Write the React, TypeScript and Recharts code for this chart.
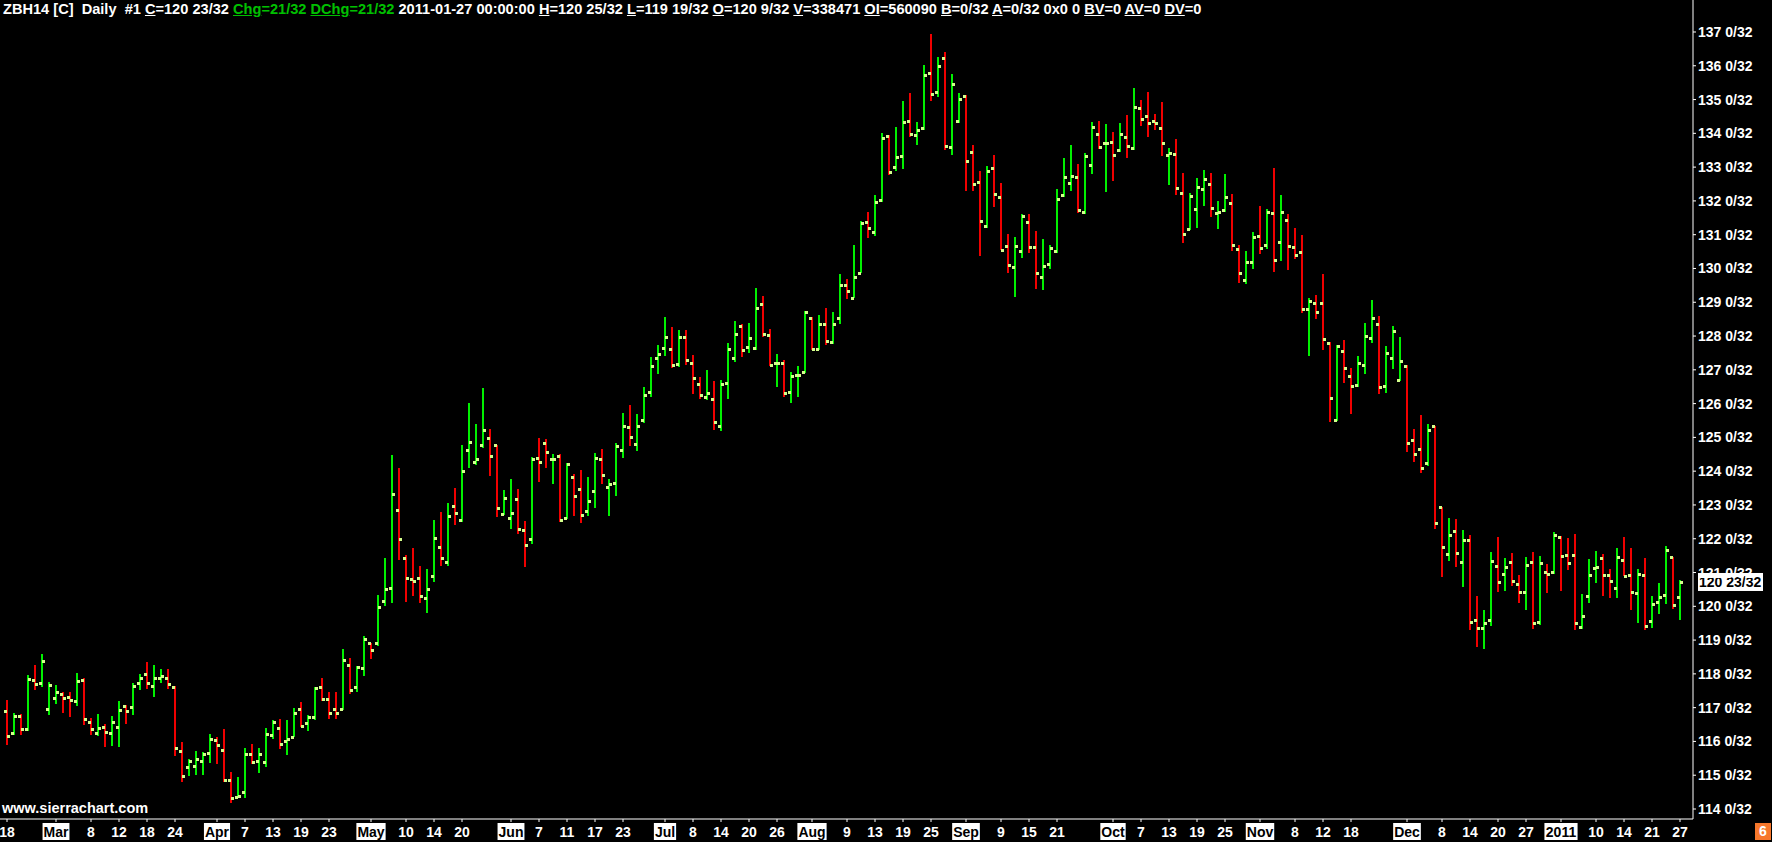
import { ComposedChart, Bar, XAxis, YAxis, ReferenceLine } from 'recharts';

// ZBH14 daily bars, 2010-02-18 .. 2011-01-27 (one entry per trading day)
const opens = [
  116.89, 116.24, 116.75, 116.38, 117.82, 117.72, 116.95, 117.3, 117.4, 117.33,
  117.21, 117.82, 116.59, 116.24, 116.42, 116.24, 116.44, 117.05, 117.01, 117.72,
  118.01, 117.64, 117.89, 117.89, 117.6, 115.71, 115.25, 115.28, 115.42, 115.67,
  116.03, 115.76, 114.87, 114.36, 114.51, 115.62, 115.43, 115.38, 116.18, 116.41,
  116.0, 116.12, 116.95, 116.54, 116.71, 117.6, 117.25, 116.95, 116.95, 118.25,
  117.6, 118.16, 118.9, 118.9, 120.15, 120.53, 122.84, 121.42, 120.8, 120.83,
  120.24, 120.89, 121.75, 121.3, 122.96, 122.55, 124.62, 124.26, 124.77, 124.97,
  124.77, 122.72, 122.6, 123.17, 122.25, 121.98, 124.39, 124.82, 124.35, 124.44,
  122.6, 123.82, 123.46, 122.81, 123.4, 124.35, 123.52, 123.64, 124.63, 125.3,
  124.79, 125.5, 126.33, 127.34, 127.66, 127.63, 127.17, 127.96, 127.19, 126.57,
  126.19, 126.15, 125.34, 126.6, 127.34, 128.3, 127.68, 127.66, 128.95, 128.03,
  127.19, 127.19, 126.35, 126.84, 126.93, 128.52, 127.61, 128.36, 127.81, 128.52,
  129.5, 129.14, 129.88, 131.37, 131.07, 132.03, 133.91, 132.99, 133.34, 134.36,
  133.94, 134.15, 135.78, 135.21, 136.22, 133.59, 134.36, 135.1, 133.44, 132.55,
  131.25, 132.96, 132.13, 130.66, 130.03, 130.53, 131.39, 130.63, 129.74, 130.12,
  130.51, 132.17, 132.52, 132.71, 131.66, 133.06, 133.97, 133.7, 133.73, 133.5,
  133.89, 133.56, 134.74, 134.5, 134.36, 134.15, 133.35, 133.38, 132.22, 131.17,
  131.75, 132.34, 132.49, 131.63, 131.72, 131.93, 130.57, 129.65, 130.18, 130.95,
  130.69, 131.63, 130.77, 131.43, 130.63, 130.48, 128.79, 128.99, 128.97, 127.78,
  125.5, 127.55, 126.83, 126.54, 127.13, 127.93, 128.35, 126.51, 127.34, 126.69,
  127.1, 124.91, 124.65, 124.23, 125.34, 122.93, 121.54, 122.22, 121.31, 121.95,
  119.6, 119.35, 119.6, 121.18, 120.97, 121.3, 120.65, 120.41, 121.3, 119.55,
  121.03, 121.03, 122.04, 121.51, 121.51, 119.4, 120.3, 121.12, 121.42, 120.94,
  120.53, 121.36, 120.94, 120.38, 120.92, 119.56, 120.14, 120.32, 121.45, 120.28,
];

const highs = [
  117.22, 116.83, 116.8, 117.96, 118.26, 118.59, 117.77, 117.67, 117.47, 117.47,
  118.04, 117.87, 116.68, 116.81, 116.53, 116.75, 117.19, 117.08, 117.74, 117.99,
  118.35, 118.26, 118.14, 118.14, 117.65, 115.99, 115.47, 115.71, 115.69, 116.22,
  116.14, 116.37, 115.1, 114.95, 115.82, 115.91, 115.82, 116.41, 116.63, 116.65,
  116.63, 116.98, 117.18, 116.78, 117.62, 117.87, 117.47, 117.47, 118.74, 118.48,
  118.23, 119.12, 118.92, 120.33, 121.42, 124.48, 124.09, 121.52, 121.72, 121.19,
  121.1, 122.56, 122.8, 123.06, 123.5, 124.78, 126.02, 125.4, 126.46, 125.25,
  124.78, 123.44, 123.77, 123.47, 122.52, 124.43, 124.99, 124.95, 124.51, 124.51,
  124.23, 123.92, 124.04, 123.84, 124.53, 124.67, 123.76, 124.82, 125.71, 125.96,
  125.68, 126.48, 127.39, 127.73, 128.57, 128.28, 128.18, 128.18, 127.44, 126.8,
  126.99, 126.68, 126.7, 127.8, 128.44, 128.37, 128.39, 129.43, 129.18, 128.2,
  127.47, 127.29, 126.94, 127.11, 128.74, 128.57, 128.62, 128.82, 128.72, 129.84,
  129.68, 130.7, 131.4, 131.66, 132.17, 134.0, 133.95, 134.18, 134.96, 135.2,
  134.33, 136.02, 136.94, 136.27, 136.42, 135.76, 135.2, 135.13, 133.65, 132.9,
  133.03, 133.36, 132.52, 131.02, 130.92, 131.61, 131.61, 131.12, 130.86, 130.69,
  132.35, 133.28, 133.66, 133.09, 133.43, 134.34, 134.36, 134.28, 134.03, 134.32,
  134.54, 135.33, 134.99, 135.23, 134.57, 134.94, 133.56, 133.83, 132.82, 132.22,
  132.67, 132.91, 132.84, 132.0, 132.8, 132.2, 130.7, 130.52, 131.08, 131.85,
  131.75, 132.98, 132.18, 131.61, 131.19, 130.99, 129.13, 129.2, 129.84, 127.83,
  127.73, 127.88, 127.04, 127.41, 128.4, 129.07, 128.59, 127.7, 128.3, 127.96,
  127.14, 125.24, 125.66, 125.41, 125.34, 122.93, 122.6, 122.57, 122.26, 122.1,
  120.3, 119.9, 121.6, 122.04, 121.42, 121.57, 120.93, 121.47, 121.62, 121.49,
  121.25, 122.2, 122.08, 122.03, 122.14, 120.35, 121.39, 121.64, 121.54, 121.09,
  121.72, 122.04, 121.74, 121.1, 121.42, 120.3, 120.7, 121.78, 121.47, 120.78,
];

const lows = [
  115.89, 116.19, 116.19, 116.29, 117.52, 117.62, 116.78, 117.1, 116.85, 116.73,
  117.06, 116.48, 116.19, 116.16, 115.84, 115.86, 115.84, 116.51, 116.78, 117.52,
  117.55, 117.32, 117.74, 117.55, 115.58, 114.81, 114.97, 115.0, 115.0, 115.35,
  115.33, 114.81, 114.19, 114.34, 114.34, 115.33, 115.07, 115.27, 116.06, 115.76,
  115.6, 116.11, 116.44, 116.3, 116.63, 117.18, 116.68, 116.68, 116.93, 117.42,
  117.47, 117.95, 118.46, 118.81, 119.99, 120.09, 121.37, 120.14, 120.29, 120.09,
  119.81, 120.73, 121.2, 121.2, 122.39, 122.51, 124.11, 124.2, 124.68, 123.87,
  122.65, 122.7, 122.29, 122.14, 121.17, 121.86, 123.69, 124.1, 123.62, 122.51,
  122.58, 122.67, 122.46, 122.7, 122.9, 123.64, 122.65, 123.26, 124.38, 124.74,
  124.58, 125.42, 126.2, 126.87, 127.41, 127.07, 127.07, 127.14, 126.3, 126.16,
  126.1, 125.24, 125.2, 126.14, 127.24, 127.39, 127.49, 127.58, 127.98, 127.11,
  126.5, 126.2, 126.03, 126.2, 126.9, 127.58, 127.58, 127.73, 127.76, 128.36,
  129.09, 129.12, 129.85, 130.89, 130.96, 131.95, 132.77, 132.87, 132.94, 133.9,
  133.65, 134.1, 134.97, 135.1, 133.52, 133.36, 134.3, 132.29, 132.3, 130.37,
  131.19, 131.83, 130.55, 129.86, 129.14, 130.3, 130.47, 129.41, 129.34, 129.97,
  130.47, 132.12, 132.3, 131.65, 131.63, 132.8, 133.52, 132.27, 132.57, 133.46,
  133.26, 133.49, 134.22, 133.9, 134.1, 133.33, 132.47, 132.17, 130.76, 131.12,
  131.19, 131.83, 131.53, 131.17, 131.68, 130.5, 129.58, 129.54, 129.98, 130.43,
  130.58, 129.91, 130.23, 129.94, 130.27, 128.69, 127.42, 128.49, 127.6, 125.47,
  125.47, 126.62, 125.69, 126.5, 126.88, 127.8, 126.28, 126.32, 127.04, 126.65,
  124.55, 124.25, 123.95, 124.18, 122.28, 120.86, 121.32, 121.15, 120.58, 119.3,
  118.8, 118.75, 119.4, 120.4, 120.43, 120.58, 120.1, 119.9, 119.35, 119.45,
  120.4, 120.97, 120.46, 121.07, 119.3, 119.3, 120.1, 120.68, 120.29, 120.23,
  120.23, 120.88, 119.9, 119.5, 119.3, 119.35, 119.77, 120.07, 119.94, 119.59,
];

const closes = [
  116.15, 116.75, 116.36, 117.84, 117.7, 118.37, 117.66, 117.45, 117.3, 117.24,
  117.78, 116.65, 116.38, 116.41, 116.27, 116.57, 116.92, 116.89, 117.64, 117.87,
  117.72, 117.87, 117.94, 117.69, 115.82, 114.99, 115.42, 115.48, 115.62, 116.06,
  115.88, 114.85, 114.34, 114.38, 115.64, 115.38, 115.62, 116.22, 116.59, 115.91,
  116.08, 116.84, 116.47, 116.71, 117.57, 117.25, 116.83, 116.83, 118.4, 117.51,
  118.19, 119.02, 118.7, 119.97, 120.5, 123.32, 121.98, 120.83, 120.74, 120.3,
  120.5, 122.01, 121.42, 122.67, 122.75, 124.0, 124.85, 124.35, 125.22, 124.44,
  122.9, 123.2, 122.75, 122.28, 121.81, 124.36, 124.26, 124.56, 124.36, 122.55,
  124.2, 123.27, 122.69, 123.11, 124.38, 123.9, 123.62, 124.74, 125.33, 125.01,
  125.33, 126.26, 127.11, 127.46, 127.96, 127.13, 127.96, 127.28, 126.75, 126.25,
  126.3, 125.45, 126.58, 127.63, 128.06, 127.58, 127.93, 128.82, 128.06, 127.14,
  127.19, 126.3, 126.82, 126.84, 128.7, 127.61, 128.37, 127.86, 128.36, 129.5,
  129.33, 129.74, 131.36, 131.19, 131.96, 133.85, 132.87, 133.3, 134.33, 133.97,
  134.1, 135.72, 135.16, 135.99, 133.64, 135.46, 135.01, 133.17, 132.5, 131.42,
  132.9, 132.2, 130.55, 130.09, 130.66, 131.55, 130.63, 129.86, 130.06, 130.6,
  132.05, 132.7, 132.74, 131.72, 133.33, 134.18, 133.61, 133.7, 133.35, 133.98,
  133.63, 134.77, 134.41, 134.3, 134.3, 133.7, 133.42, 132.39, 131.01, 132.15,
  132.4, 132.64, 131.78, 131.66, 132.11, 130.69, 129.86, 130.18, 130.92, 130.6,
  131.66, 130.24, 131.66, 130.66, 130.39, 128.79, 129.03, 128.7, 127.9, 126.18,
  127.7, 127.04, 126.51, 127.19, 127.99, 128.52, 126.48, 127.49, 128.14, 127.25,
  124.82, 124.5, 124.08, 125.21, 122.48, 121.77, 122.1, 121.57, 121.95, 119.55,
  119.35, 119.5, 121.35, 120.71, 121.15, 120.74, 120.41, 121.21, 119.5, 121.27,
  120.97, 122.1, 121.48, 121.27, 119.5, 119.7, 120.94, 121.15, 120.94, 120.74,
  121.45, 120.89, 120.41, 120.97, 119.43, 120.06, 120.28, 121.68, 120.03, 120.72,
];

// date axis: bar index of each label and its text
const tickBars = [
  0, 7, 12, 16, 20, 24, 30, 34, 38, 42, 46, 52, 57, 61, 65, 72, 76, 80, 84, 88,
  94, 98, 102, 106, 110, 115, 120, 124, 128, 132, 137, 142, 146, 150, 158, 162, 166, 170, 174,
  179, 184, 188, 192, 200, 205, 209, 213, 217, 222, 227, 231, 235, 239,
];
const tickLabels = [
  '18', 'Mar', '8', '12', '18', '24', 'Apr', '7', '13', '19', '23', 'May', '10', '14', '20', 'Jun', '7', '11', '17', '23',
  'Jul', '8', '14', '20', '26', 'Aug', '9', '13', '19', '25', 'Sep', '9', '15', '21', 'Oct', '7', '13', '19', '25',
  'Nov', '8', '12', '18', 'Dec', '8', '14', '20', '27', '2011', '10', '14', '21', '27',
];
const boxedLabels = ['Mar', 'Apr', 'May', 'Jun', 'Jul', 'Aug', 'Sep', 'Oct', 'Nov', 'Dec', '2011'];

const priceTicks = [
  114, 115, 116, 117, 118, 119, 120, 121, 122, 123, 124, 125,
  126, 127, 128, 129, 130, 131, 132, 133, 134, 135, 136, 137,
];

const GREEN = '#00f000';
const RED = '#f00000';
const MARK = '#d4ff8c';
const FONT = '"Liberation Sans", Arial, sans-serif';

// Arial Bold advance widths (em) for label box sizing
const charW: Record<string, number> = {
  M: 0.833, a: 0.556, r: 0.389, A: 0.722, p: 0.611, y: 0.556, J: 0.556, u: 0.611, n: 0.611,
  l: 0.278, g: 0.611, S: 0.667, e: 0.556, O: 0.778, c: 0.556, t: 0.333, N: 0.722, o: 0.611,
  v: 0.556, D: 0.722,
};
const textWidth = (s: string, size: number) =>
  s.split('').reduce((w, ch) => w + (charW[ch] ?? 0.556), 0) * size;

const fmt32 = (v: number) => {
  const whole = Math.floor(v + 1e-9);
  return `${whole} ${Math.round((v - whole) * 32)}/32`;
};

const data = opens.map((o, i) => ({
  i,
  o,
  h: highs[i],
  l: lows[i],
  c: closes[i],
  range: [lows[i], highs[i]],
}));

function OhlcBar(props: any) {
  const { x, y, width, height, payload } = props;
  if (!payload || x == null) return null;
  const cx = Math.round(x + width / 2);
  const top = Math.min(y, y + height);
  const bottom = Math.max(y, y + height);
  const span = payload.h - payload.l;
  const toY = (v: number) => (span > 0 ? top + ((payload.h - v) / span) * (bottom - top) : top);
  const color = payload.c >= payload.o ? GREEN : RED;
  const oy = Math.round(toY(payload.o));
  const cy = Math.round(toY(payload.c));
  return (
    <g>
      <rect x={cx - 1} y={Math.round(top)} width={2} height={Math.max(1, Math.round(bottom - top))} fill={color} />
      <rect x={cx - 3} y={oy - 1} width={3} height={3} fill={MARK} />
      <rect x={cx} y={cy - 1} width={3} height={3} fill={MARK} />
    </g>
  );
}

function DateTick(props: any) {
  const { x, y, payload } = props;
  const idx = tickBars.indexOf(payload.value);
  if (idx < 0) return null;
  const label = tickLabels[idx];
  const boxed = boxedLabels.includes(label);
  const w = textWidth(label, 14) + 2;
  return (
    <g>
      {boxed && <rect x={x - w / 2} y={y + 1} width={w} height={17} fill="#fff" />}
      <text
        x={x}
        y={y + 15}
        textAnchor="middle"
        fill={boxed ? '#000' : '#fff'}
        fontFamily={FONT}
        fontWeight="bold"
        fontSize={14}
      >
        {label}
      </text>
    </g>
  );
}

function PriceTick(props: any) {
  const { x, y, payload } = props;
  return (
    <text x={x} y={y + 5} textAnchor="start" fill="#fff" fontFamily={FONT} fontWeight="bold" fontSize={14}>
      {fmt32(payload.value)}
    </text>
  );
}

function LastPriceTag(props: any) {
  const vb = props.viewBox || {};
  const x = vb.x + vb.width + 5;
  const y = vb.y;
  return (
    <g>
      <rect x={x} y={y - 9} width={65} height={18} fill="#fff" />
      <text x={x + 1} y={y + 5} fill="#000" fontFamily={FONT} fontWeight="bold" fontSize={14}>
        {fmt32(closes[closes.length - 1])}
      </text>
    </g>
  );
}

const u = { textDecoration: 'underline' as const };
const g = { color: '#00c000' };

export default function App() {
  return (
    <div style={{ position: 'fixed', left: 0, top: 0, width: 1772, height: 842, background: '#000', overflow: 'hidden' }}>
      <ComposedChart width={1772} height={842} data={data} margin={{ top: 0, right: 0, bottom: 0, left: 0 }}>
        <XAxis
          dataKey="i"
          type="category"
          ticks={tickBars}
          interval={0}
          height={23}
          padding={{ left: 3.5, right: 9.5 }}
          axisLine={{ stroke: '#fff' }}
          tickLine={{ stroke: '#fff' }}
          tickSize={3}
          tickMargin={0}
          tick={<DateTick />}
        />
        <YAxis
          orientation="right"
          type="number"
          width={79}
          domain={[113.704, 137.947]}
          allowDataOverflow
          ticks={priceTicks}
          interval={0}
          axisLine={{ stroke: '#fff' }}
          tickLine={{ stroke: '#fff' }}
          tickSize={3}
          tickMargin={2}
          tick={<PriceTick />}
        />
        <Bar dataKey="range" shape={<OhlcBar />} isAnimationActive={false} />
        <ReferenceLine y={closes[closes.length - 1]} stroke="none" label={<LastPriceTag />} />
      </ComposedChart>

      <div
        style={{
          position: 'absolute', left: 3, top: 1, color: '#fff', fontFamily: FONT, fontWeight: 'bold',
          fontSize: 14.6, lineHeight: '17px', whiteSpace: 'pre',
        }}
      >
        {'ZBH14 [C]  Daily  #1 '}<span style={u}>C</span>{'=120 23/32 '}
        <span style={g}><span style={u}>Chg</span>=21/32</span>{' '}
        <span style={g}><span style={u}>DChg</span>=21/32</span>{' 2011-01-27 00:00:00 '}
        <span style={u}>H</span>{'=120 25/32 '}<span style={u}>L</span>{'=119 19/32 '}
        <span style={u}>O</span>{'=120 9/32 '}<span style={u}>V</span>{'=338471 '}
        <span style={u}>OI</span>{'=560090 '}<span style={u}>B</span>{'=0/32 '}
        <span style={u}>A</span>{'=0/32 0x0 0 '}<span style={u}>BV</span>{'=0 '}
        <span style={u}>AV</span>{'=0 '}<span style={u}>DV</span>{'=0'}
      </div>

      <div
        style={{
          position: 'absolute', left: 2, top: 800, color: '#fff', fontFamily: FONT, fontWeight: 'bold',
          fontSize: 14.5, lineHeight: '17px',
        }}
      >
        www.sierrachart.com
      </div>

      <div
        style={{
          position: 'absolute', left: 1755, top: 823, width: 16, height: 17, background: '#f7772b', color: '#fff',
          fontFamily: FONT, fontWeight: 'bold', fontSize: 14, lineHeight: '17px', textAlign: 'center',
        }}
      >
        6
      </div>
    </div>
  );
}
